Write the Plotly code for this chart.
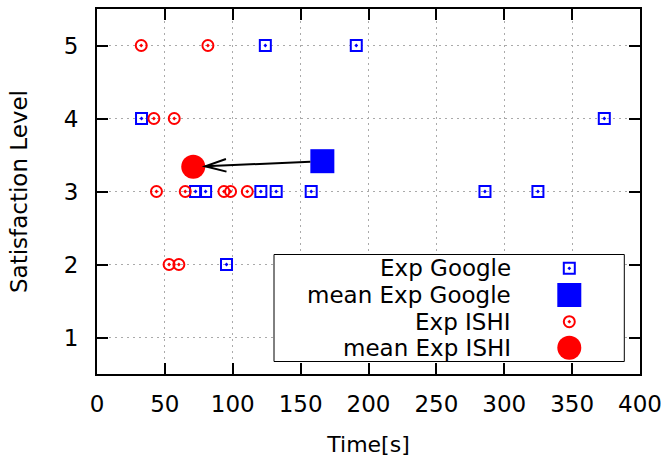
import plotly.graph_objects as go
import numpy as np

# ---- data ----
google_time = [124, 191, 32.8, 373.7, 72.6, 80, 120.7, 132, 157.8, 285.8, 324.8, 95.4]
google_level = [5, 5, 4, 4, 3, 3, 3, 3, 3, 3, 3, 2]
ishi_time = [32.6, 81.7, 41.9, 56.9, 43.8, 65, 93.5, 98.4, 110.7, 53.1, 60.3]
ishi_level = [5, 5, 4, 4, 3, 3, 3, 3, 3, 2, 2]
mean_google_time = [166]
mean_google_level = [3.415]
mean_ishi_time = [70.9]
mean_ishi_level = [3.339]
x_ticks = [0, 50, 100, 150, 200, 250, 300, 350, 400]
y_ticks = [1, 2, 3, 4, 5]
legend_labels = ["Exp Google", "mean Exp Google", "Exp ISHI", "mean Exp ISHI"]

FONT = "DejaVu Sans"
W, H = 667, 457
ML, MR, MT, MB = 97, 27, 9, 83
PW, PH = W - ML - MR, H - MT - MB
XR = [0, 400]
YR = [0.5, 5.5]
BLUE = "#0000ff"
RED = "#ff0000"

fig = go.Figure()
fig.add_trace(go.Scatter(x=google_time, y=google_level, mode="markers",
                         marker=dict(symbol="square-open-dot", size=11, color=BLUE,
                                     line=dict(width=2, color=BLUE)),
                         showlegend=False))
fig.add_trace(go.Scatter(x=mean_google_time, y=mean_google_level, mode="markers",
                         marker=dict(symbol="square", size=24, color=BLUE,
                                     line=dict(width=0)),
                         showlegend=False))
fig.add_trace(go.Scatter(x=ishi_time, y=ishi_level, mode="markers",
                         marker=dict(symbol="circle-open-dot", size=11, color=RED,
                                     line=dict(width=2, color=RED)),
                         showlegend=False))
fig.add_trace(go.Scatter(x=mean_ishi_time, y=mean_ishi_level, mode="markers",
                         marker=dict(symbol="circle", size=24, color=RED,
                                     line=dict(width=0)),
                         showlegend=False))

# ---- arrow from mean Google to mean ISHI (open V head) ----
sx = PW / (XR[1] - XR[0])
sy = PH / (YR[1] - YR[0])


def to_px(x, y):
    return np.array([(x - XR[0]) * sx, (YR[1] - y) * sy])


def to_data(p):
    return (p[0] / sx + XR[0], YR[1] - p[1] / sy)


g = to_px(mean_google_time[0], mean_google_level[0])
i = to_px(mean_ishi_time[0], mean_ishi_level[0])
u = (i - g) / np.linalg.norm(i - g)
n = np.array([-u[1], u[0]])
tail = g + 12 * u
tip = i - 12 * u
b1 = tip - 21 * u + 6.3 * n
b2 = tip - 21 * u - 6.3 * n
t_d, p_d, b1_d, b2_d = to_data(tail), to_data(tip), to_data(b1), to_data(b2)
fig.add_shape(type="line", xref="x", yref="y", x0=t_d[0], y0=t_d[1], x1=p_d[0], y1=p_d[1],
              line=dict(color="black", width=2))
fig.add_shape(type="path", xref="x", yref="y",
              path=f"M {b1_d[0]},{b1_d[1]} L {p_d[0]},{p_d[1]} L {b2_d[0]},{b2_d[1]}",
              line=dict(color="black", width=2))

# ---- manual legend (text left, symbol right) on an overlay 0-1 axis ----
lx0, lx1 = (274 - ML) / PW, (624.3 - ML) / PW
ly0, ly1 = (MT + PH - 361.5) / PH, (MT + PH - 254.5) / PH
fig.add_trace(go.Scatter(x=[lx0, lx1, lx1, lx0, lx0], y=[ly0, ly0, ly1, ly1, ly0],
                         xaxis="x2", yaxis="y2", mode="lines", fill="toself",
                         fillcolor="white", line=dict(color="black", width=1),
                         hoverinfo="skip", showlegend=False))
row_px = [268.3, 295.0, 321.7, 347.7]
row_y = [(MT + PH - r) / PH for r in row_px]
sym_x = (569.3 - ML) / PW
txt_x = (513 - ML) / PW
sym_specs = [
    dict(symbol="square-open-dot", size=11, color=BLUE, line=dict(width=2, color=BLUE)),
    dict(symbol="square", size=24, color=BLUE, line=dict(width=0)),
    dict(symbol="circle-open-dot", size=11, color=RED, line=dict(width=2, color=RED)),
    dict(symbol="circle", size=24, color=RED, line=dict(width=0)),
]
for lab, yy, spec in zip(legend_labels, row_y, sym_specs):
    fig.add_trace(go.Scatter(x=[sym_x], y=[yy], xaxis="x2", yaxis="y2", mode="markers",
                             marker=spec, hoverinfo="skip", showlegend=False))
    fig.add_annotation(x=txt_x, y=yy, xref="paper", yref="paper", text=lab,
                       showarrow=False, xanchor="right", yanchor="middle",
                       font=dict(family=FONT, size=23, color="black"))

axis_common = dict(showline=True, linewidth=2, linecolor="black", mirror="ticks",
                   ticks="inside", ticklen=11, tickwidth=2, tickcolor="black",
                   showgrid=True, gridcolor="#aaaaaa", griddash="2px,4px", gridwidth=1,
                   zeroline=False, automargin=False,
                   tickfont=dict(family=FONT, size=23, color="black"))

fig.update_layout(
    width=W, height=H, autosize=False,
    margin=dict(l=ML, r=MR, t=MT, b=MB),
    paper_bgcolor="white", plot_bgcolor="white",
    font=dict(family=FONT, size=23, color="black"),
    xaxis=dict(range=XR, tickvals=x_ticks, ticktext=[str(v) for v in x_ticks],
               title=dict(text="Time[s]", font=dict(family=FONT, size=22), standoff=24),
               ticklabelstandoff=8, **axis_common),
    yaxis=dict(range=YR, tickvals=y_ticks, ticktext=[str(v) for v in y_ticks],
               title=dict(text="Satisfaction Level", font=dict(family=FONT, size=23), standoff=30),
               ticklabelstandoff=12, **axis_common),
    xaxis2=dict(overlaying="x", range=[0, 1], visible=False, fixedrange=True),
    yaxis2=dict(overlaying="y", range=[0, 1], visible=False, fixedrange=True),
    showlegend=False,
)

fig.write_html("out.html", config={"displayModeBar": False},
               post_script="document.body.style.margin='0';document.body.style.overflow='hidden';")
